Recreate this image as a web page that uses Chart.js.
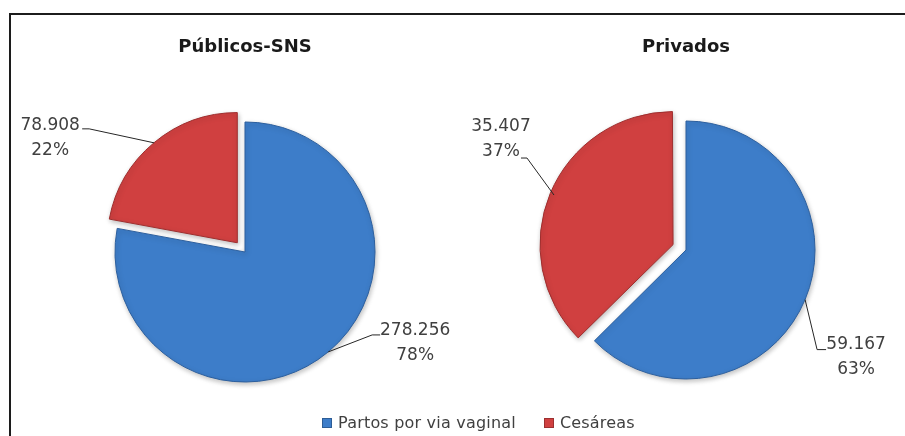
<!DOCTYPE html>
<html>
<head>
<meta charset="utf-8">
<script src="https://cdn.jsdelivr.net/npm/chart.js@4.4.0/dist/chart.umd.min.js"></script>
<style>
html, body { margin: 0; padding: 0; background: #fff; overflow: hidden; }
#quadro { position: relative; width: 905px; height: 436px; }
#moldura { position: absolute; left: 9px; top: 13px; width: 930px; height: 460px; border: 2px solid #1c1c1c; box-sizing: border-box; }
canvas { position: absolute; left: 0; top: 0; }
#legenda { position: absolute; left: 322px; top: 413px; display: flex; font: 16px "DejaVu Sans", sans-serif; letter-spacing: 0.2px; color: #404040; }
#legenda span.item { display: flex; align-items: center; margin-right: 28px; }
#legenda span.caixa { display: inline-block; width: 8px; height: 8px; margin-right: 6px; border: 1px solid rgba(0,0,0,0.25); }
</style>
</head>
<body>
<div id="quadro">
  <div id="moldura"></div>
  <canvas id="grafico-sns" width="905" height="436"></canvas>
  <canvas id="grafico-privados" width="905" height="436"></canvas>
  <div id="legenda"></div>
</div>
<script>
// dados
const categorias = ['Partos por via vaginal', 'Cesáreas'];
const valoresSNS = [278256, 78908];
const valoresPrivados = [59167, 35407];
const cores = ['#3D7DC9', '#D04040'];
const coresBorda = ['#2C5F9E', '#9E2E2E'];

function formatar(n) {
    return String(n).replace(/\B(?=(\d{3})+(?!\d))/g, '.');
}

// sombra leve por baixo das fatias + rótulos com linha de ligação, ao estilo do Excel
const rotulos = {
    id: 'rotulos',
    beforeDatasetsDraw(chart) {
        const ctx = chart.ctx;
        ctx.save();
        ctx.shadowColor = 'rgba(0,0,0,0.25)';
        ctx.shadowBlur = 5;
        ctx.shadowOffsetX = 1;
        ctx.shadowOffsetY = 2;
    },
    afterDatasetsDraw(chart, args, opts) {
        const ctx = chart.ctx;
        ctx.restore();
        const meta = chart.getDatasetMeta(0);
        const valores = chart.data.datasets[0].data;
        const total = valores.reduce((a, b) => a + b, 0);
        meta.data.forEach((arco, i) => {
            const p = arco.getProps(['x', 'y', 'startAngle', 'endAngle', 'outerRadius'], true);
            const meio = (p.startAngle + p.endAngle) / 2;
            const desloc = (arco.options.offset || 0) / 4;
            const ax = p.x + Math.cos(meio) * (p.outerRadius + desloc);
            const ay = p.y + Math.sin(meio) * (p.outerRadius + desloc);
            const g = opts.posicoes[i];
            ctx.save();
            ctx.strokeStyle = '#262626';
            ctx.lineWidth = 1;
            ctx.beginPath();
            ctx.moveTo(ax, ay);
            ctx.lineTo(ax + g.cotovelo[0], ay + g.cotovelo[1]);
            ctx.lineTo(ax + g.fim[0], ay + g.fim[1]);
            ctx.stroke();
            ctx.font = '17px "DejaVu Sans", sans-serif';
            ctx.fillStyle = '#404040';
            ctx.textAlign = 'center';
            ctx.textBaseline = 'middle';
            ctx.fillText(formatar(valores[i]), ax + g.texto[0], ay + g.texto[1] - 12);
            ctx.fillText(Math.round(valores[i] / total * 100) + '%', ax + g.texto[0], ay + g.texto[1] + 13);
            ctx.restore();
        });
    }
};

function criarGrafico(idCanvas, titulo, valores, deslocamento, padding, tituloPadding, posicoes) {
    const ctx = document.getElementById(idCanvas).getContext('2d');
    return new Chart(ctx, {
        type: 'pie',
        data: {
            labels: categorias,
            datasets: [{
                data: valores,
                backgroundColor: cores,
                borderColor: coresBorda,
                borderWidth: 1,
                offset: [0, deslocamento]
            }]
        },
        options: {
            responsive: false,
            animation: false,
            events: [],
            layout: { padding: padding },
            plugins: {
                legend: { display: false },
                tooltip: { enabled: false },
                title: {
                    display: true,
                    text: titulo,
                    color: '#1a1a1a',
                    font: { family: '"DejaVu Sans", sans-serif', size: 18, weight: 'bold', lineHeight: 1.2 },
                    padding: tituloPadding
                },
                rotulos: { posicoes: posicoes }
            }
        },
        plugins: [rotulos]
    });
}

criarGrafico('grafico-sns', 'Públicos-SNS', valoresSNS, 48,
    { left: 90.5, right: 505.5, top: 27, bottom: 29.5 },
    { top: 10, bottom: 38.9 },
    [
        { texto: [87, -9], cotovelo: [44, -17], fim: [52, -17] },
        { texto: [-104, -5], cotovelo: [-65, -14], fim: [-72, -14] }
    ]);

criarGrafico('grafico-privados', 'Privados', valoresPrivados, 56,
    { left: 528.5, right: 61.5, top: 27, bottom: 27.5 },
    { top: 10, bottom: 32.9 },
    [
        { texto: [51, 57], cotovelo: [12, 50], fim: [21, 50] },
        { texto: [-53, -56], cotovelo: [-27, -37], fim: [-33, -37] }
    ]);

// legenda comum aos dois gráficos
const legenda = document.getElementById('legenda');
categorias.forEach((nome, i) => {
    const item = document.createElement('span');
    item.className = 'item';
    const caixa = document.createElement('span');
    caixa.className = 'caixa';
    caixa.style.background = cores[i];
    item.appendChild(caixa);
    item.appendChild(document.createTextNode(nome));
    legenda.appendChild(item);
});
</script>
</body>
</html>
